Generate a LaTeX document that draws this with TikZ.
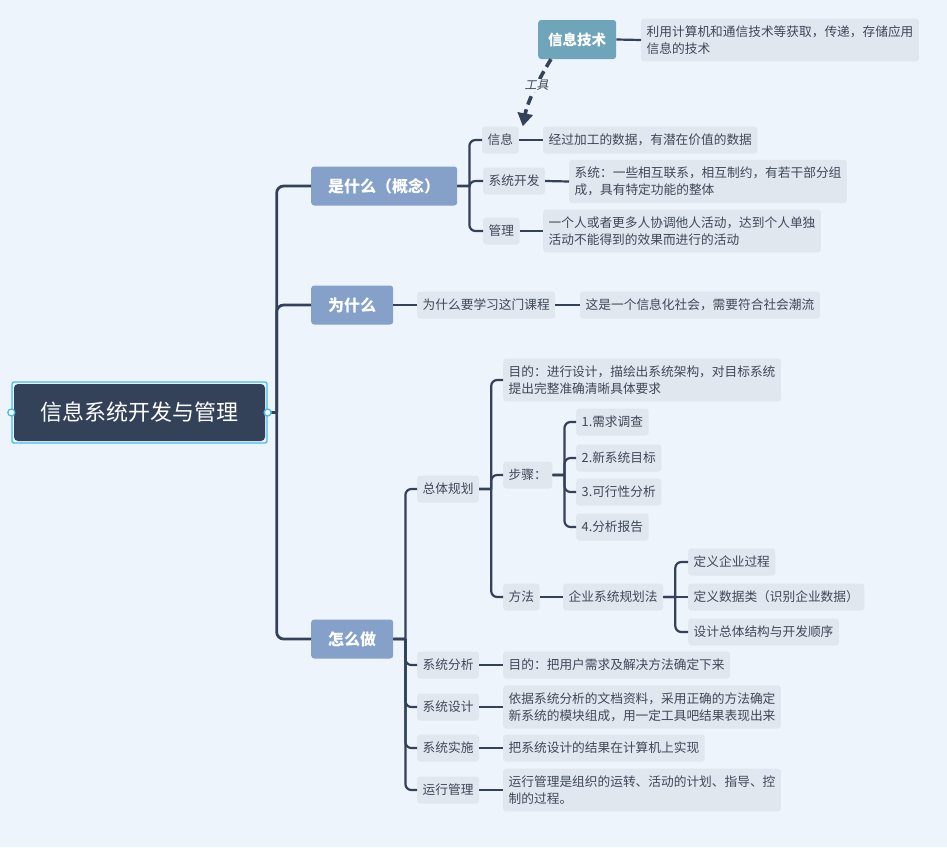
\documentclass[tikz,border=0pt]{standalone}
\usepackage{fontspec}
\setmainfont{Noto Sans CJK SC}
\newfontfamily\slantcjk{Noto Sans CJK SC}[FakeSlant=0.2]
\usepackage{xcolor}
\usetikzlibrary{arrows.meta, positioning, calc, fit}
\definecolor{bgblue}{RGB}{238, 244, 251}
\definecolor{rootdark}{RGB}{52, 66, 89}
\definecolor{rootcyan}{RGB}{64, 190, 240}
\definecolor{topicblue}{RGB}{133, 161, 201}
\definecolor{techblue}{RGB}{111, 165, 186}
\definecolor{leafgray}{RGB}{225, 231, 239}
\definecolor{leaftext}{RGB}{62, 72, 88}
\definecolor{linedark}{RGB}{52, 66, 89}
\tikzstyle{rootbox} = [fill=rootdark, text=white, rounded corners=4pt, minimum width=251pt, minimum height=57pt, font=\fontsize{22}{26}\selectfont]
\tikzstyle{handle} = [circle, draw=rootcyan, fill=white, line width=1.3pt, minimum size=7pt, inner sep=0pt]
\tikzstyle{topicbox} = [fill=topicblue, text=white, rounded corners=3pt, minimum height=39pt, inner xsep=17pt, anchor=west, font=\fontsize{16}{19}\selectfont\bfseries]
\tikzstyle{techbox} = [fill=techblue, text=white, rounded corners=3pt, minimum height=39pt, inner xsep=10pt, anchor=west, font=\fontsize{14.5}{17}\selectfont\bfseries]
\tikzstyle{leafbox} = [fill=leafgray, text=leaftext, rounded corners=3pt, minimum height=27pt, inner xsep=5.5pt, inner ysep=7pt, anchor=west, align=left, font=\fontsize{12.7}{17}\selectfont]
\tikzstyle{trunk} = [draw=linedark, line width=2.8pt, rounded corners=7pt, to path={-- ++(9,0) ++(0,0) |- (\tikztotarget)}]
\tikzstyle{branch} = [draw=linedark, line width=2.2pt, rounded corners=6pt, to path={-- ++(12,0) ++(0,0) |- (\tikztotarget)}]
\tikzstyle{link} = [draw=linedark, line width=2.2pt]
\tikzstyle{tool} = [draw=linedark, line width=3.6pt, dash pattern=on 9pt off 5pt, -{Triangle[length=13pt, width=15pt]}]

\begin{document}
\begin{tikzpicture}[x=1pt, y=-1pt]
    % Canvas
    \fill[bgblue] (0,0) rectangle (947,847);
    \useasboundingbox (0,0) rectangle (947,847);

    % Root
    \node[rootbox] (root) at (139.5,412.5) {信息系统开发与管理};
    \node[draw=rootcyan, line width=1.3pt, fit=(root), inner sep=1.8pt, rounded corners=2pt] (rootframe) {};

    % Main topics
    \node[topicbox] (what) at (311,186) {是什么（概念）};
    \node[topicbox] (why) at (311,305) {为什么};
    \node[topicbox] (how) at (311,639) {怎么做};

    % Concept
    \node[techbox] (tech) at (538,39.5) {信息技术};
    \node[leafbox] (techdef) at (641,40) {利用计算机和通信技术等获取，传递，存储应用\\信息的技术};
    \node[leafbox] (xinxi) at (482,140) {信息};
    \node[leafbox] (xinxidef) at (543,140) {经过加工的数据，有潜在价值的数据};
    \node[leafbox] (xtkf) at (483,181) {系统开发};
    \node[leafbox] (xtkfdef) at (569,181.5) {系统：一些相互联系，相互制约，有若干部分组\\成，具有特定功能的整体};
    \node[leafbox] (guanli) at (483,231) {管理};
    \node[leafbox] (guanlidef) at (543,231) {一个人或者更多人协调他人活动，达到个人单独\\活动不能得到的效果而进行的活动};

    % Reason
    \node[leafbox] (course) at (417,305) {为什么要学习这门课程};
    \node[leafbox] (reason) at (580,305) {这是一个信息化社会，需要符合社会潮流};

    % Planning
    \node[leafbox] (plan) at (417,489) {总体规划};
    \node[leafbox] (goal) at (503,380) {目的：进行设计，描绘出系统架构，对目标系统\\提出完整准确清晰具体要求};
    \node[leafbox] (steps) at (503,475) {步骤：};
    \node[leafbox] (s1) at (576,422) {1.需求调查};
    \node[leafbox] (s2) at (576,458) {2.新系统目标};
    \node[leafbox] (s3) at (576,492) {3.可行性分析};
    \node[leafbox] (s4) at (576,527) {4.分析报告};
    \node[leafbox] (method) at (503,597) {方法};
    \node[leafbox] (bsp) at (563,597) {企业系统规划法};
    \node[leafbox] (m1) at (688,562) {定义企业过程};
    \node[leafbox] (m2) at (688,597) {定义数据类（识别企业数据）};
    \node[leafbox] (m3) at (688,632) {设计总体结构与开发顺序};

    % Phases
    \node[leafbox] (analysis) at (417,665) {系统分析};
    \node[leafbox] (analysisdef) at (503,665) {目的：把用户需求及解决方法确定下来};
    \node[leafbox] (design) at (417,707) {系统设计};
    \node[leafbox] (designdef) at (503,707) {依据系统分析的文档资料，采用正确的方法确定\\新系统的模块组成，用一定工具吧结果表现出来};
    \node[leafbox] (impl) at (417,748) {系统实施};
    \node[leafbox] (impldef) at (503,748) {把系统设计的结果在计算机上实现};
    \node[leafbox] (ops) at (417,790) {运行管理};
    \node[leafbox] (opsdef) at (503,790) {运行管理是组织的运转、活动的计划、指导、控\\制的过程。};

    % Connectors
    \foreach \t in {what,why,how}
        \draw[trunk] (rootframe.east) to (\t.west);
    \foreach \c in {xinxi,xtkf,guanli}
        \draw[branch] (what.east) to (\c.west);
    \foreach \c in {plan,analysis,design,impl,ops}
        \draw[branch] (how.east) to (\c.west);
    \foreach \c in {goal,steps,method}
        \draw[branch] (plan.east) to (\c.west);
    \foreach \c in {s1,s2,s3,s4}
        \draw[branch] (steps.east) to (\c.west);
    \foreach \c in {m1,m3}
        \draw[branch] (bsp.east) to (\c.west);
    \draw[link] (bsp.east) -- (m2.west);
    \draw[link] (tech.east) -- (techdef.west);
    \draw[link] (xinxi.east) -- (xinxidef.west);
    \draw[link] (xtkf.east) -- (xtkfdef.west);
    \draw[link] (guanli.east) -- (guanlidef.west);
    \draw[link] (why.east) -- (course.west);
    \draw[link] (course.east) -- (reason.west);
    \draw[link] (method.east) -- (bsp.west);
    \draw[link] (analysis.east) -- (analysisdef.west);
    \draw[link] (design.east) -- (designdef.west);
    \draw[link] (impl.east) -- (impldef.west);
    \draw[link] (ops.east) -- (opsdef.west);

    % Relation
    \draw[tool] ($(tech.south west)+(13,0)$) .. controls +(-10,16) and +(5,-26) .. ($(xinxi.north east)+(4,0)$)
        node[pos=0.45, fill=bgblue, inner sep=1pt, text=leaftext, font=\slantcjk\fontsize{12}{14}\selectfont] {工具};

    % Handles
    \node[handle] (hleft) at (rootframe.west) {};
    \node[handle] (hright) at (rootframe.east) {};
\end{tikzpicture}
\end{document}
